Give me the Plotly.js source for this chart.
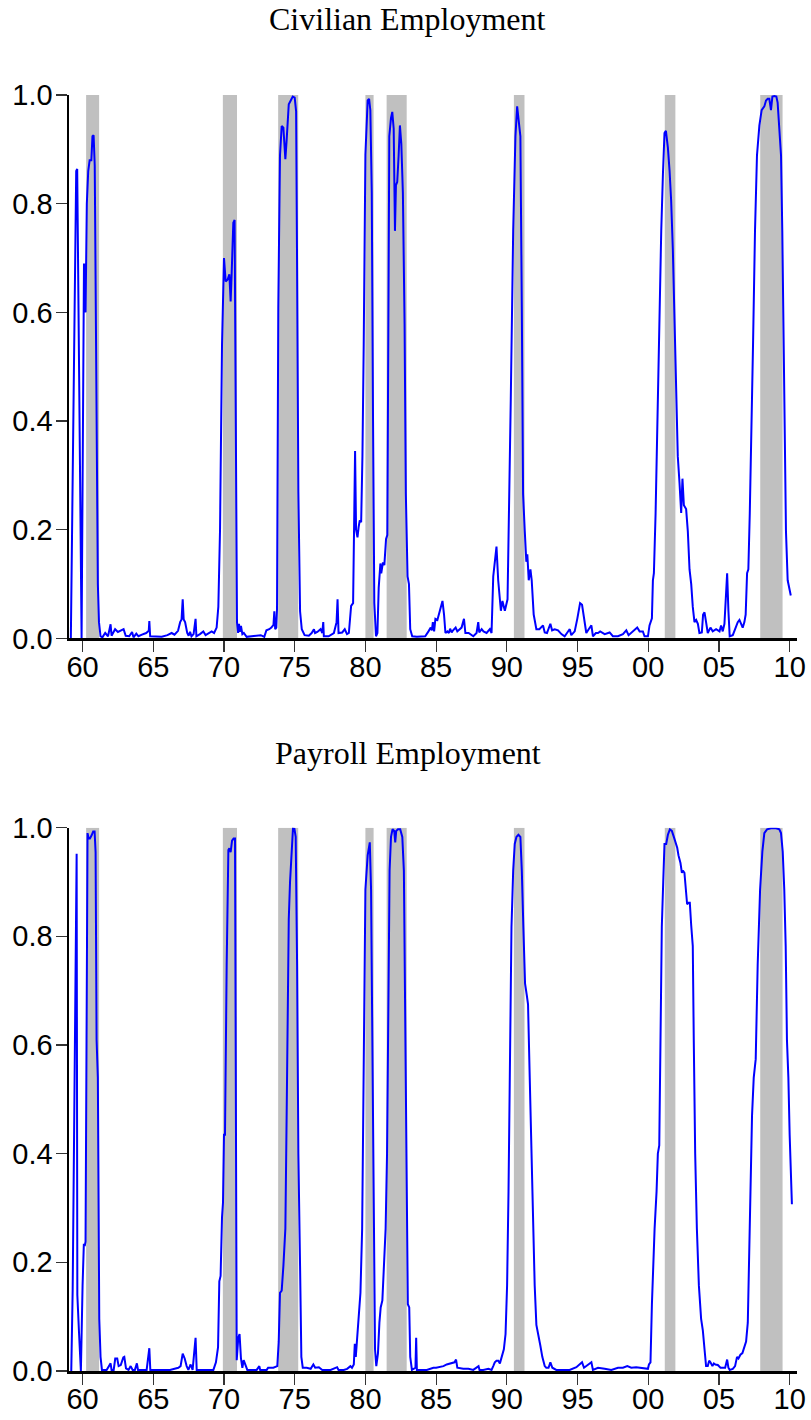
<!DOCTYPE html>
<html>
<head>
<meta charset="utf-8">
<script src="https://cdn.plot.ly/plotly-3.0.1.min.js"></script>
<style>
  html, body { margin: 0; padding: 0; background: #fff; }
  #myDiv { width: 811px; height: 1420px; }
</style>
</head>
<body>
<div id="myDiv"></div>
<script>
// NBER recession dates (peak to trough), decimal years
var recStart = [1960.25, 1969.92, 1973.83, 1980.0, 1981.5, 1990.5, 2001.17, 2007.92];
var recEnd   = [1961.17, 1970.92, 1975.25, 1980.58, 1982.92, 1991.25, 2001.92, 2009.5];

var tickYears  = [1960, 1965, 1970, 1975, 1980, 1985, 1990, 1995, 2000, 2005, 2010];
var tickLabels = ['60', '65', '70', '75', '80', '85', '90', '95', '00', '05', '10'];

var probTicks  = [0, 0.2, 0.4, 0.6, 0.8, 1.0];

// Civilian employment: recession probability
var civDates = [
  1959.17, 1959.33, 1959.5, 1959.55, 1959.62, 1959.75, 1959.93,
  1960.1, 1960.14, 1960.17, 1960.21, 1960.3, 1960.4, 1960.5, 1960.62, 1960.7, 1960.78, 1960.86, 1960.95,
  1961.02, 1961.08, 1961.16, 1961.27, 1961.4, 1961.6, 1961.8, 1961.98,
  1962.05, 1962.2, 1962.3, 1962.5, 1962.7, 1962.9, 1963.05, 1963.3, 1963.5, 1963.6, 1963.8, 1963.95,
  1964.2, 1964.5, 1964.68, 1964.72, 1964.78, 1965.2, 1965.6, 1966.0, 1966.3, 1966.5, 1966.75, 1966.9,
  1967.0, 1967.08, 1967.15, 1967.25, 1967.4, 1967.5, 1967.6, 1967.7, 1967.85, 1967.99,
  1968.05, 1968.3, 1968.54, 1968.7, 1968.9, 1969.13, 1969.3, 1969.48, 1969.6, 1969.72, 1969.86,
  1970.0, 1970.12, 1970.25, 1970.38, 1970.47, 1970.54, 1970.66, 1970.75, 1970.85, 1970.92,
  1971.0, 1971.06, 1971.12, 1971.2, 1971.3, 1971.4, 1971.6, 1971.9, 1972.3, 1972.6, 1972.85,
  1973.0, 1973.2, 1973.35, 1973.5, 1973.56, 1973.62, 1973.7, 1973.75, 1973.84, 1973.96,
  1974.08, 1974.2, 1974.34, 1974.43, 1974.58, 1974.72, 1974.86, 1975.0, 1975.1, 1975.17, 1975.26, 1975.38, 1975.5, 1975.7,
  1976.0, 1976.2, 1976.36, 1976.44, 1976.6, 1976.83, 1976.95, 1977.02, 1977.06, 1977.4, 1977.77, 1977.96,
  1978.03, 1978.1, 1978.36, 1978.54, 1978.7, 1978.83, 1978.99,
  1979.13, 1979.23, 1979.27, 1979.34, 1979.44, 1979.52, 1979.6, 1979.7, 1979.79, 1979.88,
  1980.0, 1980.16, 1980.26, 1980.35, 1980.45, 1980.54, 1980.63, 1980.75, 1980.85, 1980.94,
  1981.06, 1981.12, 1981.24, 1981.34, 1981.46, 1981.55, 1981.62, 1981.69, 1981.81, 1981.9,
  1982.0, 1982.09, 1982.16, 1982.25, 1982.35, 1982.44, 1982.54, 1982.65, 1982.77, 1982.86, 1982.98,
  1983.08, 1983.17, 1983.31, 1983.64, 1984.0, 1984.23, 1984.46, 1984.62, 1984.7, 1984.77, 1984.86, 1984.95,
  1985.09, 1985.28, 1985.45, 1985.56, 1985.66, 1985.8, 1985.9, 1985.99,
  1986.1, 1986.2, 1986.38, 1986.5, 1986.8, 1986.97, 1987.07, 1987.3, 1987.63, 1987.86, 1987.98,
  1988.05, 1988.22, 1988.35, 1988.57, 1988.8, 1988.92,
  1989.04, 1989.18, 1989.27, 1989.39, 1989.48, 1989.58, 1989.69, 1989.78, 1989.86,
  1990.05, 1990.14, 1990.28, 1990.45, 1990.61, 1990.73, 1990.85, 1990.96,
  1991.06, 1991.15, 1991.27, 1991.38, 1991.45, 1991.55, 1991.67, 1991.76, 1991.9,
  1992.09, 1992.3, 1992.56, 1992.68, 1992.84, 1993.08, 1993.2, 1993.39, 1993.62, 1993.86,
  1994.09, 1994.28, 1994.45, 1994.56, 1994.8, 1994.99, 1995.18, 1995.32, 1995.51, 1995.62, 1995.79, 1995.98,
  1996.09, 1996.3, 1996.45, 1996.6, 1996.92, 1997.27, 1997.5, 1997.86, 1998.21, 1998.45, 1998.61, 1998.92,
  1999.22, 1999.39, 1999.62, 1999.74, 1999.98,
  2000.09, 2000.26, 2000.33, 2000.4, 2000.52, 2000.64, 2000.73, 2000.82, 2000.92,
  2001.04, 2001.15, 2001.25, 2001.39, 2001.51, 2001.62, 2001.74, 2001.86, 2001.98,
  2002.09, 2002.21, 2002.33, 2002.42, 2002.52, 2002.68, 2002.8, 2002.92,
  2003.04, 2003.15, 2003.27, 2003.39, 2003.51, 2003.62, 2003.79, 2003.88, 2003.98,
  2004.09, 2004.21, 2004.4, 2004.56, 2004.8, 2005.04, 2005.15, 2005.27, 2005.39, 2005.58, 2005.67, 2005.76, 2005.98,
  2006.14, 2006.33, 2006.45, 2006.56, 2006.68, 2006.8, 2006.89, 2006.99,
  2007.08, 2007.18, 2007.27, 2007.41, 2007.55, 2007.69, 2007.86,
  2008.02, 2008.21, 2008.33, 2008.45, 2008.56, 2008.68, 2008.78, 2008.92,
  2009.06, 2009.15, 2009.25, 2009.39, 2009.48, 2009.62, 2009.74, 2009.86, 2010.0, 2010.08
];
var civProb = [
  0.0, 0.35, 0.83, 0.86, 0.864, 0.45, 0.0,
  0.69, 0.6, 0.69, 0.6, 0.8, 0.86, 0.88, 0.88, 0.924, 0.926, 0.87, 0.6,
  0.3, 0.1, 0.03, 0.004, 0.002, 0.01, 0.004, 0.026,
  0.005, 0.012, 0.017, 0.012, 0.014, 0.017, 0.005, 0.004, 0.012, 0.002, 0.009, 0.004,
  0.007, 0.01, 0.014, 0.032, 0.004, 0.004, 0.003, 0.006, 0.01, 0.007, 0.014, 0.03,
  0.035, 0.072, 0.035, 0.03, 0.01, 0.005, 0.012, 0.004, 0.008, 0.036,
  0.004, 0.008, 0.013, 0.006, 0.01, 0.013, 0.01, 0.02, 0.058, 0.2, 0.54,
  0.70, 0.657, 0.66, 0.67, 0.62, 0.67, 0.765, 0.77, 0.40, 0.03,
  0.01, 0.027, 0.012, 0.023, 0.008, 0.01, 0.003, 0.004, 0.004, 0.006, 0.003,
  0.015, 0.017, 0.02, 0.025, 0.05, 0.017, 0.02, 0.055, 0.61, 0.889,
  0.943, 0.94, 0.882, 0.917, 0.983, 0.99, 0.997, 0.995, 0.97, 0.68, 0.27, 0.05, 0.017, 0.006,
  0.005, 0.01, 0.017, 0.01, 0.012, 0.017, 0.01, 0.03, 0.004, 0.004, 0.01, 0.03,
  0.072, 0.01, 0.011, 0.017, 0.008, 0.01, 0.06,
  0.065, 0.27, 0.345, 0.2, 0.186, 0.205, 0.217, 0.214, 0.335, 0.54,
  0.89, 0.99, 0.993, 0.972, 0.82, 0.40, 0.065, 0.004, 0.01, 0.093,
  0.138, 0.12, 0.14, 0.135, 0.183, 0.19, 0.61, 0.924, 0.958, 0.969,
  0.938, 0.75, 0.834, 0.84, 0.889, 0.944, 0.91, 0.82, 0.578, 0.266, 0.114,
  0.1, 0.017, 0.004, 0.003, 0.004, 0.004, 0.013, 0.02, 0.015, 0.03, 0.013, 0.036,
  0.034, 0.051, 0.069, 0.044, 0.01, 0.013, 0.01, 0.018,
  0.011, 0.015, 0.02, 0.013, 0.02, 0.036, 0.01, 0.01, 0.004, 0.01, 0.03,
  0.011, 0.017, 0.013, 0.01, 0.017, 0.01,
  0.114, 0.148, 0.169, 0.107, 0.086, 0.051, 0.069, 0.06, 0.051,
  0.072, 0.197, 0.44, 0.75, 0.924, 0.979, 0.952, 0.924,
  0.61, 0.266, 0.197, 0.141, 0.155, 0.107, 0.127, 0.107, 0.044,
  0.017, 0.017, 0.024, 0.011, 0.01, 0.027, 0.015, 0.017, 0.015, 0.008,
  0.004, 0.011, 0.017, 0.006, 0.013, 0.037, 0.065, 0.062, 0.025, 0.01, 0.017, 0.024,
  0.004, 0.01, 0.01, 0.013, 0.008, 0.011, 0.004, 0.004, 0.008, 0.015, 0.006, 0.013,
  0.02, 0.013, 0.013, 0.004, 0.004,
  0.024, 0.037, 0.107, 0.12, 0.23, 0.40, 0.51, 0.61, 0.75,
  0.855, 0.93, 0.934, 0.903, 0.86, 0.806, 0.716, 0.578, 0.44,
  0.335, 0.287, 0.231, 0.294, 0.245, 0.238, 0.197, 0.127,
  0.1, 0.058, 0.03, 0.034, 0.027, 0.01, 0.011, 0.044, 0.048,
  0.03, 0.01, 0.02, 0.013, 0.017, 0.013, 0.024, 0.013, 0.027, 0.12, 0.051, 0.004, 0.006,
  0.017, 0.03, 0.034, 0.027, 0.02, 0.03, 0.044, 0.12,
  0.127, 0.23, 0.335, 0.54, 0.75, 0.889, 0.944,
  0.972, 0.979, 0.99, 0.993, 0.993, 0.972, 0.997, 0.998,
  0.997, 0.986, 0.952, 0.889, 0.75, 0.474, 0.197, 0.107, 0.09, 0.079
];

// Payroll employment
var payDates = [
  1959.2, 1959.3, 1959.58, 1959.63, 1959.75, 1959.88,
  1960.0, 1960.09, 1960.15, 1960.21, 1960.28, 1960.35, 1960.43, 1960.52, 1960.64, 1960.75, 1960.85, 1960.92, 1960.99,
  1961.08, 1961.18, 1961.27, 1961.37, 1961.7, 1961.98,
  1962.05, 1962.2, 1962.31, 1962.45, 1962.55, 1962.7, 1962.88, 1962.95, 1963.07, 1963.25, 1963.4, 1963.54, 1963.7, 1963.84, 1963.92,
  1964.17, 1964.53, 1964.72, 1964.79, 1965.47, 1966.18, 1966.77, 1966.93,
  1967.08, 1967.22, 1967.36, 1967.48, 1967.64, 1967.78, 1967.99, 1968.07, 1968.6, 1969.25, 1969.43, 1969.58, 1969.67, 1969.76, 1969.86, 1969.93,
  1970.0, 1970.07, 1970.19, 1970.31, 1970.38, 1970.47, 1970.57, 1970.68, 1970.78, 1970.85, 1970.9,
  1971.01, 1971.1, 1971.2, 1971.3, 1971.39, 1971.51, 1971.65, 1972.31, 1972.5, 1972.56,
  1973.02, 1973.12, 1973.49, 1973.77, 1973.87, 1973.96,
  1974.08, 1974.2, 1974.34, 1974.43, 1974.58, 1974.67, 1974.79, 1974.88, 1974.98,
  1975.07, 1975.17, 1975.26, 1975.38, 1975.47, 1975.57, 1975.85,
  1976.13, 1976.32, 1976.45, 1976.71, 1976.95, 1977.54, 1978.0, 1978.1, 1978.47, 1978.71, 1978.94,
  1979.05, 1979.18, 1979.25, 1979.32, 1979.41, 1979.55, 1979.65, 1979.77, 1979.88,
  1980.0, 1980.16, 1980.31, 1980.4, 1980.49, 1980.59, 1980.68, 1980.77, 1980.89, 1980.99,
  1981.08, 1981.2, 1981.29, 1981.43, 1981.53, 1981.62, 1981.71, 1981.81, 1981.92,
  1982.04, 1982.11, 1982.18, 1982.3, 1982.46, 1982.61, 1982.72, 1982.82, 1982.91,
  1983.0, 1983.1, 1983.17, 1983.29, 1983.54, 1983.59, 1983.64, 1984.34, 1984.81,
  1985.0, 1985.2, 1985.52, 1985.75, 1985.99, 1986.17, 1986.3, 1986.41, 1986.5, 1986.92,
  1987.28, 1987.63, 1987.86, 1988.0, 1988.07, 1988.33, 1988.7, 1988.92,
  1989.04, 1989.15, 1989.27, 1989.4, 1989.51, 1989.65, 1989.79, 1989.91,
  1990.02, 1990.12, 1990.21, 1990.33, 1990.45, 1990.56, 1990.68, 1990.82, 1990.96,
  1991.06, 1991.17, 1991.29, 1991.41, 1991.5, 1991.62, 1991.74, 1991.85, 1991.97,
  1992.09, 1992.23, 1992.37, 1992.51, 1992.68, 1992.79, 1992.95, 1993.08, 1993.22, 1993.5, 1993.97,
  1994.44, 1994.92, 1995.15, 1995.32, 1995.46, 1995.62, 1995.79, 1995.98,
  1996.09, 1996.45, 1996.92, 1997.39, 1997.86, 1998.21, 1998.52, 1998.8, 1999.15, 1999.39, 1999.69, 1999.98,
  2000.05, 2000.16, 2000.26, 2000.33, 2000.45, 2000.59, 2000.68, 2000.78, 2000.87, 2000.96,
  2001.06, 2001.15, 2001.27, 2001.39, 2001.53, 2001.67, 2001.81, 2001.95,
  2002.05, 2002.14, 2002.28, 2002.38, 2002.45, 2002.56, 2002.66, 2002.75, 2002.85, 2002.94,
  2003.04, 2003.15, 2003.22, 2003.32, 2003.44, 2003.58, 2003.74, 2003.86, 2003.98,
  2004.09, 2004.21, 2004.31, 2004.4, 2004.54, 2004.64, 2004.75, 2004.92,
  2005.11, 2005.27, 2005.44, 2005.58, 2005.67, 2005.76, 2005.98,
  2006.14, 2006.28, 2006.38, 2006.52, 2006.66, 2006.8, 2006.92,
  2007.04, 2007.13, 2007.22, 2007.34, 2007.46, 2007.6, 2007.74, 2007.91,
  2008.07, 2008.21, 2008.4, 2008.68, 2009.04, 2009.27, 2009.39, 2009.51, 2009.62, 2009.72, 2009.81, 2009.91,
  2010.0, 2010.09, 2010.16
];
var payProb = [
  0.0, 0.15, 0.952, 0.14, 0.07, 0.0,
  0.158, 0.234, 0.23, 0.238, 0.61, 0.99, 0.98, 0.98, 0.986, 0.993, 0.993, 0.955, 0.61,
  0.54, 0.096, 0.026, 0.002, 0.002, 0.014,
  0.002, 0.002, 0.023, 0.023, 0.009, 0.011, 0.025, 0.026, 0.005, 0.002, 0.009, 0.002, 0.002, 0.014, 0.002,
  0.002, 0.002, 0.042, 0.002, 0.002, 0.002, 0.006, 0.009,
  0.032, 0.023, 0.009, 0.002, 0.012, 0.002, 0.061, 0.002, 0.002, 0.002, 0.016, 0.044, 0.165, 0.175, 0.283, 0.31,
  0.435, 0.435, 0.748, 0.959, 0.962, 0.955, 0.976, 0.98, 0.98, 0.54, 0.02,
  0.061, 0.068, 0.023, 0.006, 0.02, 0.012, 0.002, 0.002, 0.009, 0.002,
  0.002, 0.006, 0.006, 0.009, 0.054, 0.144,
  0.148, 0.193, 0.262, 0.47, 0.831, 0.9, 0.97, 0.999, 0.998,
  0.983, 0.748, 0.4, 0.193, 0.026, 0.006, 0.006,
  0.004, 0.012, 0.006, 0.007, 0.002, 0.002, 0.007, 0.002, 0.002, 0.004, 0.009,
  0.006, 0.012, 0.05, 0.026, 0.054, 0.11, 0.144, 0.262, 0.54,
  0.886, 0.949, 0.973, 0.886, 0.609, 0.193, 0.04, 0.009, 0.033, 0.089,
  0.117, 0.13, 0.193, 0.262, 0.4, 0.748, 0.921, 0.983, 0.997,
  0.994, 0.973, 0.994, 0.997, 0.997, 0.983, 0.921, 0.678, 0.331,
  0.123, 0.117, 0.026, 0.002, 0.006, 0.061, 0.002, 0.002, 0.006,
  0.006, 0.007, 0.009, 0.012, 0.014, 0.016, 0.016, 0.021, 0.006, 0.004,
  0.004, 0.002, 0.006, 0.009, 0.002, 0.002, 0.004, 0.002,
  0.009, 0.016, 0.019, 0.019, 0.014, 0.026, 0.04, 0.068,
  0.158, 0.331, 0.54, 0.817, 0.921, 0.97, 0.983, 0.987, 0.983,
  0.921, 0.817, 0.713, 0.692, 0.675, 0.54, 0.4, 0.262, 0.158,
  0.085, 0.068, 0.047, 0.026, 0.009, 0.006, 0.006, 0.016, 0.006, 0.002, 0.002,
  0.002, 0.007, 0.012, 0.016, 0.006, 0.009, 0.012, 0.016,
  0.002, 0.006, 0.004, 0.002, 0.006, 0.006, 0.009, 0.006, 0.007, 0.006, 0.006, 0.004,
  0.012, 0.016, 0.123, 0.193, 0.262, 0.331, 0.4, 0.415, 0.609, 0.817,
  0.9, 0.97, 0.97, 0.987, 0.997, 0.994, 0.983, 0.97,
  0.963, 0.949, 0.935, 0.917, 0.921, 0.917, 0.886, 0.859, 0.862, 0.862,
  0.82, 0.782, 0.609, 0.4, 0.262, 0.158, 0.096, 0.075, 0.04,
  0.009, 0.009, 0.019, 0.016, 0.009, 0.014, 0.012, 0.011,
  0.006, 0.006, 0.006, 0.021, 0.006, 0.002, 0.004,
  0.009, 0.026, 0.023, 0.03, 0.033, 0.044, 0.054,
  0.089, 0.193, 0.331, 0.47, 0.54, 0.574, 0.748, 0.886,
  0.956, 0.99, 0.997, 0.999, 0.999, 0.997, 0.99, 0.956, 0.886, 0.782, 0.609, 0.54,
  0.435, 0.331, 0.307
];

var tickFont = {family: 'Liberation Sans, Arial, Helvetica, sans-serif', size: 29, color: '#000'};
var titleFont = {family: 'Liberation Serif, Times New Roman, serif', size: 32, color: '#000'};

function xAxis(anchor) {
    return {
        anchor: anchor,
        range: [1959.04, 2010.52],
        showgrid: false, zeroline: false,
        showline: true, linecolor: '#000', linewidth: 2.5,
        ticks: 'outside', ticklen: 11, tickwidth: 1.2, tickcolor: '#333',
        tickvals: tickYears, ticktext: tickLabels,
        ticklabelstandoff: -10,
        tickfont: tickFont, fixedrange: true
    };
}
function yAxis(anchor, domain) {
    return {
        anchor: anchor, domain: domain,
        range: [0, 1],
        showgrid: false, zeroline: false,
        showline: true, linecolor: '#000', linewidth: 2.5,
        ticks: 'outside', ticklen: 11, tickwidth: 1.2, tickcolor: '#333',
        tickvals: probTicks, tickformat: '.1f',
        ticklabelstandoff: -3,
        tickfont: tickFont, fixedrange: true
    };
}

var shapes = [];
for (let i = 0; i < recStart.length; i++) {
    ['', '2'].forEach(function (s) {
        shapes.push({
            type: 'rect', layer: 'below',
            xref: 'x' + s, yref: 'y' + s,
            x0: recStart[i], x1: recEnd[i], y0: 0, y1: 1,
            fillcolor: '#c0c0c0', line: {width: 0}
        });
    });
}

var civ = {x: civDates, y: civProb, type: 'scatter', mode: 'lines',
           line: {color: '#0000ff', width: 2}, xaxis: 'x', yaxis: 'y', hoverinfo: 'skip'};
var pay = {x: payDates, y: payProb, type: 'scatter', mode: 'lines',
           line: {color: '#0000ff', width: 2}, xaxis: 'x2', yaxis: 'y2', hoverinfo: 'skip'};

var layout = {
    width: 811, height: 1420,
    margin: {l: 69, r: 14, t: 95, b: 49},
    paper_bgcolor: '#fff', plot_bgcolor: '#fff',
    showlegend: false,
    xaxis: xAxis('y'),
    yaxis: yAxis('x', [0.5741, 1]),
    xaxis2: xAxis('y2'),
    yaxis2: yAxis('x2', [0, 0.4258]),
    shapes: shapes,
    annotations: [
        {text: 'Civilian Employment', xref: 'paper', yref: 'paper', x: 0.465, y: 1.0595,
         xanchor: 'center', yanchor: 'middle', showarrow: false, font: titleFont},
        {text: 'Payroll Employment', xref: 'paper', yref: 'paper', x: 0.465, y: 0.4846,
         xanchor: 'center', yanchor: 'middle', showarrow: false, font: titleFont}
    ]
};

Plotly.newPlot('myDiv', [civ, pay], layout, {displayModeBar: false, staticPlot: true});
</script>
</body>
</html>
